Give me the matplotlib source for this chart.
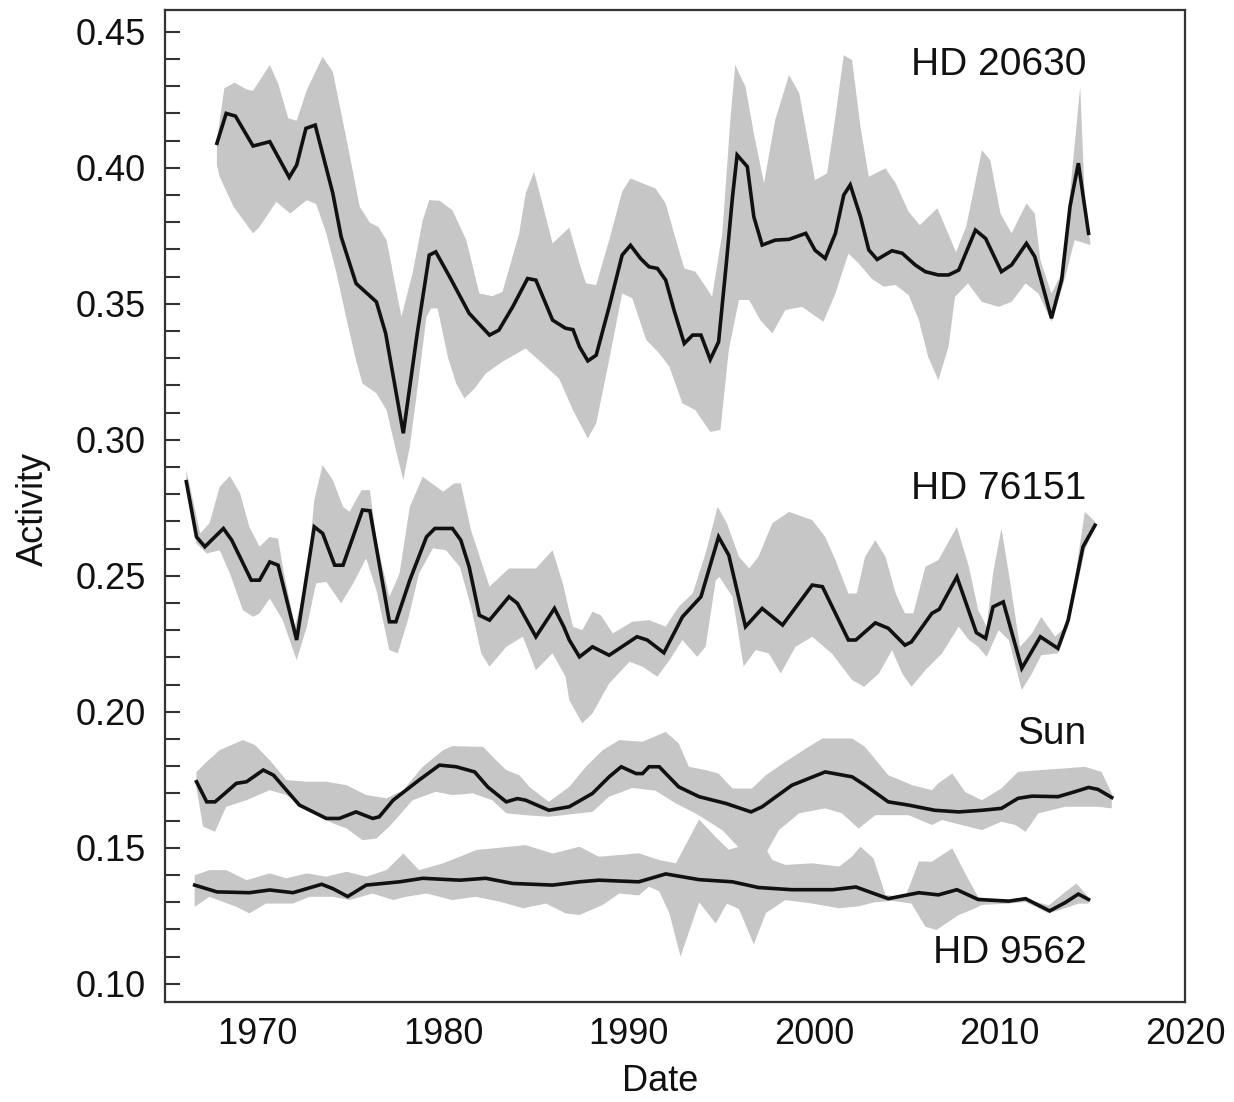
import matplotlib
matplotlib.use("Agg")
import matplotlib.pyplot as plt
from matplotlib.ticker import MultipleLocator, FormatStrFormatter
import numpy as np

plt.rcParams['font.family'] = ['Liberation Sans', 'DejaVu Sans']

# ---- HD 20630 ----
hd20630_x = [1967.8, 1968.3, 1968.8, 1969.75, 1970.65, 1971.7, 1972.1, 1972.6, 1973.1, 1974.05,
             1974.5, 1975.3, 1976.4, 1976.9, 1977.85, 1978.6, 1979.25, 1979.6, 1980.35, 1981.4,
             1982.5, 1983.0, 1983.75, 1984.55, 1985.0, 1985.9, 1986.6, 1987.0, 1987.35, 1987.8,
             1988.25, 1988.95, 1989.65, 1990.1, 1990.65, 1991.1, 1991.55, 1992.0, 1992.45, 1993.0,
             1993.45, 1993.9, 1994.4, 1994.85, 1995.25, 1995.6, 1995.85, 1996.4, 1996.75, 1997.2,
             1997.9, 1998.65, 1999.55, 2000.05, 2000.6, 2001.15, 2001.6, 2001.95, 2002.5, 2002.95,
             2003.4, 2004.2, 2004.75, 2005.45, 2006.0, 2006.7, 2007.25, 2007.8, 2008.7, 2009.25,
             2010.1, 2010.65, 2011.45, 2011.9, 2012.8, 2013.35, 2013.8, 2014.25, 2014.8]
hd20630_y = [0.409, 0.420, 0.419, 0.408, 0.4096, 0.3965, 0.401, 0.4145, 0.4157, 0.3906,
             0.3746, 0.3575, 0.3507, 0.3391, 0.3024, 0.3391, 0.3679, 0.3691, 0.3599, 0.3465,
             0.3385, 0.3403, 0.3489, 0.3593, 0.3587, 0.3440, 0.3410, 0.3405, 0.3342, 0.3290,
             0.3311, 0.3489, 0.3679, 0.3715, 0.3666, 0.3636, 0.3630, 0.3587, 0.3476, 0.3354,
             0.3385, 0.3385, 0.3295, 0.3360, 0.3636, 0.3893, 0.4047, 0.4004, 0.3820, 0.3716,
             0.3734, 0.3737, 0.3759, 0.3697, 0.3667, 0.3759, 0.3900, 0.3937, 0.3820, 0.3698,
             0.3663, 0.3695, 0.3686, 0.3643, 0.3618, 0.3606, 0.3606, 0.3624, 0.3771, 0.3740,
             0.3618, 0.3643, 0.3722, 0.3673, 0.3447, 0.3588, 0.3858, 0.4017, 0.3759]
hd20630_up_x = [1967.8, 1968.2, 1968.75, 1969.4, 1969.75, 1970.65, 1971.1, 1971.65, 1972.1, 1972.65,
                1973.5, 1974.05, 1974.8, 1975.5, 1976.05, 1976.5, 1976.95, 1977.75, 1978.35, 1978.9,
                1979.25, 1979.8, 1980.5, 1981.25, 1981.95, 1982.65, 1983.2, 1984.1, 1984.45, 1984.9,
                1985.35, 1985.9, 1986.8, 1987.35, 1987.7, 1988.25, 1988.95, 1989.65, 1990.1, 1990.75,
                1991.45, 1992.0, 1992.45, 1993.0, 1993.6, 1994.15, 1994.5, 1995.05, 1995.5, 1995.75,
                1996.3, 1996.75, 1997.3, 1997.9, 1998.65, 1999.2, 2000.05, 2000.7, 2001.15, 2001.6,
                2002.05, 2002.5, 2002.95, 2003.85, 2004.4, 2005.1, 2005.7, 2006.65, 2007.15, 2007.65,
                2008.2, 2009.05, 2009.5, 2010.05, 2010.65, 2011.45, 2011.9, 2012.2, 2012.8, 2013.35,
                2013.8, 2014.35, 2014.6, 2014.9]
hd20630_up_y = [0.410, 0.4292, 0.4313, 0.4288, 0.4283, 0.4378, 0.4310, 0.4182, 0.4173, 0.4286,
                0.4408, 0.4353, 0.4102, 0.3857, 0.3798, 0.3783, 0.3734, 0.3452, 0.3612, 0.3808,
                0.3881, 0.3879, 0.3844, 0.3734, 0.3538, 0.3528, 0.3544, 0.3759, 0.3906, 0.3985,
                0.3869, 0.3722, 0.3780, 0.3649, 0.3575, 0.3569, 0.3734, 0.3912, 0.3961, 0.3943,
                0.3924, 0.3869, 0.3759, 0.3630, 0.3618, 0.3563, 0.3526, 0.3759, 0.4188, 0.4378,
                0.4298, 0.4127, 0.3943, 0.4175, 0.4341, 0.4274, 0.3955, 0.3979, 0.4188, 0.4414,
                0.4396, 0.4151, 0.3967, 0.3998, 0.3943, 0.3838, 0.3789, 0.3851, 0.3771, 0.3690,
                0.3783, 0.4065, 0.4028, 0.3832, 0.3759, 0.3869, 0.3832, 0.3661, 0.3538, 0.3612,
                0.3906, 0.4298, 0.3881, 0.3722]
hd20630_lo_x = [1967.8, 1967.95, 1968.7, 1969.75, 1970.1, 1971.0, 1971.75, 1972.65, 1973.15, 1973.7,
                1974.25, 1974.8, 1975.3, 1975.65, 1976.4, 1976.95, 1977.45, 1977.85, 1978.2, 1978.65,
                1979.1, 1979.35, 1979.7, 1980.25, 1980.7, 1981.15, 1981.7, 1982.3, 1983.2, 1984.45,
                1985.35, 1986.25, 1987.0, 1987.8, 1988.25, 1988.95, 1989.65, 1990.2, 1990.95, 1991.65,
                1992.2, 1992.9, 1993.6, 1994.4, 1994.95, 1995.4, 1995.95, 1996.5, 1997.1, 1997.75,
                1998.45, 1999.35, 2000.5, 2001.15, 2001.85, 2002.4, 2003.1, 2003.75, 2004.4, 2005.1,
                2005.65, 2006.15, 2006.7, 2007.25, 2007.6, 2008.3, 2009.05, 2009.95, 2010.65, 2011.4,
                2012.1, 2012.8, 2013.55, 2014.05, 2014.9]
hd20630_lo_y = [0.401, 0.3967, 0.3857, 0.3759, 0.3783, 0.3875, 0.3832, 0.3881, 0.3867, 0.3759,
                0.3612, 0.3440, 0.3293, 0.3207, 0.3171, 0.3109, 0.2962, 0.2852, 0.2974, 0.3207,
                0.3452, 0.3483, 0.3483, 0.3305, 0.3207, 0.3152, 0.3189, 0.3244, 0.3287, 0.3336,
                0.3281, 0.3225, 0.3109, 0.3005, 0.3060, 0.3293, 0.3538, 0.3520, 0.3367, 0.3318,
                0.3268, 0.3134, 0.3109, 0.3029, 0.3036, 0.3330, 0.3514, 0.3514, 0.3440, 0.3391,
                0.3477, 0.3489, 0.3434, 0.3538, 0.3685, 0.3649, 0.3593, 0.3563, 0.3569, 0.3532,
                0.3440, 0.3305, 0.3219, 0.3342, 0.3526, 0.3575, 0.3507, 0.3489, 0.3507, 0.3575,
                0.3538, 0.3434, 0.3599, 0.3734, 0.3716]

# ---- HD 76151 ----
hd76151_x = [1966.15, 1966.7, 1967.15, 1968.15, 1968.6, 1969.65, 1970.1, 1970.65, 1971.1, 1972.1,
             1973.05, 1973.5, 1974.15, 1974.6, 1975.65, 1976.05, 1977.1, 1977.45, 1978.2, 1979.1,
             1979.55, 1980.5, 1980.95, 1981.4, 1981.95, 1982.5, 1983.55, 1984.0, 1985.0, 1986.0,
             1986.5, 1986.8, 1987.35, 1988.05, 1988.95, 1990.45, 1991.0, 1991.9, 1992.9, 1993.9,
             1994.85, 1995.4, 1996.3, 1997.2, 1998.3, 1999.9, 2000.45, 2001.85, 2002.25, 2003.3,
             2004.0, 2004.9, 2005.25, 2006.35, 2006.75, 2007.7, 2008.75, 2009.25, 2009.65, 2010.2,
             2011.2, 2012.2, 2013.15, 2013.7, 2014.5, 2015.15]
hd76151_y = [0.2846, 0.2643, 0.2607, 0.2674, 0.2631, 0.2484, 0.2484, 0.2551, 0.2539, 0.2264,
             0.2680, 0.2656, 0.2539, 0.2539, 0.2742, 0.2739, 0.2331, 0.2331, 0.2484, 0.2643,
             0.2674, 0.2674, 0.2631, 0.2533, 0.2355, 0.2337, 0.2423, 0.2399, 0.2276, 0.2380,
             0.2313, 0.2264, 0.2202, 0.2239, 0.2208, 0.2276, 0.2264, 0.2217, 0.2349, 0.2423,
             0.2643, 0.2576, 0.2313, 0.2380, 0.2319, 0.2466, 0.2460, 0.2264, 0.2264, 0.2327,
             0.2307, 0.2245, 0.2257, 0.2362, 0.2377, 0.2496, 0.2291, 0.2270, 0.2386, 0.2404,
             0.2160, 0.2276, 0.2233, 0.2337, 0.2607, 0.2686]
hd76151_up_x = [1966.15, 1966.9, 1967.4, 1967.95, 1968.5, 1969.05, 1969.55, 1970.1, 1970.65, 1971.1,
                1971.35, 1972.0, 1972.65, 1973.05, 1973.5, 1974.05, 1974.6, 1974.95, 1975.6, 1976.05,
                1976.4, 1977.1, 1977.65, 1978.2, 1978.9, 1980.0, 1980.6, 1980.95, 1981.5, 1982.5,
                1983.55, 1985.0, 1985.9, 1986.45, 1987.0, 1987.5, 1988.05, 1988.5, 1989.15, 1990.2,
                1991.1, 1992.0, 1992.7, 1993.45, 1994.15, 1994.8, 1995.3, 1995.95, 1996.5, 1997.0,
                1997.75, 1998.65, 1999.9, 2000.6, 2001.15, 2001.85, 2002.3, 2002.75, 2003.3, 2003.85,
                2004.4, 2004.9, 2005.35, 2006.0, 2006.7, 2007.7, 2008.35, 2008.85, 2009.3, 2009.65,
                2010.1, 2010.5, 2011.1, 2011.75, 2012.25, 2013.0, 2013.55, 2014.05, 2014.6, 2015.15]
hd76151_up_y = [0.2889, 0.2656, 0.2693, 0.2827, 0.2867, 0.2803, 0.2680, 0.2607, 0.2643, 0.2637,
                0.2533, 0.2313, 0.2484, 0.2778, 0.2907, 0.2852, 0.2754, 0.2735, 0.2815, 0.2815,
                0.2631, 0.2423, 0.2509, 0.2754, 0.2864, 0.2809, 0.2840, 0.2840, 0.2668, 0.2460,
                0.2527, 0.2527, 0.2594, 0.2472, 0.2313, 0.2300, 0.2368, 0.2355, 0.2288, 0.2331,
                0.2337, 0.2313, 0.2386, 0.2435, 0.2582, 0.2754, 0.2693, 0.2570, 0.2527, 0.2570,
                0.2693, 0.2735, 0.2705, 0.2643, 0.2558, 0.2435, 0.2435, 0.2570, 0.2631, 0.2570,
                0.2435, 0.2362, 0.2362, 0.2533, 0.2558, 0.2680, 0.2533, 0.2374, 0.2313, 0.2509,
                0.2674, 0.2509, 0.2239, 0.2288, 0.2349, 0.2276, 0.2313, 0.2484, 0.2735, 0.2699]
hd76151_lo_x = [1966.15, 1966.7, 1967.25, 1967.95, 1968.5, 1969.2, 1969.75, 1970.1, 1970.65, 1971.35,
                1972.1, 1972.65, 1973.15, 1973.7, 1974.5, 1975.15, 1975.85, 1976.4, 1977.1, 1977.55,
                1978.1, 1978.7, 1979.45, 1980.15, 1980.9, 1981.5, 1982.05, 1982.5, 1983.4, 1984.3,
                1985.0, 1985.9, 1986.6, 1986.8, 1987.5, 1988.05, 1988.95, 1990.05, 1990.75, 1991.55,
                1992.2, 1992.9, 1993.7, 1994.15, 1994.7, 1994.9, 1995.6, 1996.2, 1996.85, 1997.55,
                1998.2, 1999.0, 1999.9, 2000.95, 2002.05, 2002.7, 2003.5, 2004.2, 2004.75, 2005.25,
                2006.0, 2006.9, 2007.8, 2008.35, 2008.85, 2009.3, 2009.95, 2010.5, 2011.2, 2011.75,
                2012.25, 2013.15, 2013.7, 2014.6, 2015.15]
hd76151_lo_y = [0.2830, 0.2619, 0.2582, 0.2594, 0.2509, 0.2374, 0.2349, 0.2362, 0.2417, 0.2337,
                0.2190, 0.2313, 0.2472, 0.2478, 0.2399, 0.2472, 0.2564, 0.2447, 0.2227, 0.2215,
                0.2337, 0.2509, 0.2601, 0.2594, 0.2533, 0.2386, 0.2215, 0.2166, 0.2239, 0.2276,
                0.2153, 0.2215, 0.2129, 0.2043, 0.1958, 0.1994, 0.2104, 0.2184, 0.2166, 0.2129,
                0.2190, 0.2264, 0.2202, 0.2239, 0.2484, 0.2496, 0.2423, 0.2166, 0.2227, 0.2215,
                0.2141, 0.2239, 0.2276, 0.2215, 0.2117, 0.2092, 0.2141, 0.2227, 0.2141, 0.2092,
                0.2153, 0.2215, 0.2313, 0.2264, 0.2239, 0.2202, 0.2300, 0.2264, 0.2080, 0.2141,
                0.2208, 0.2215, 0.2313, 0.2594, 0.2680]

# ---- Sun ----
sun_x = [1966.7, 1967.25, 1967.7, 1968.85, 1969.4, 1970.3, 1970.85, 1972.25, 1973.7, 1974.4,
         1975.3, 1976.2, 1976.55, 1977.3, 1978.7, 1979.8, 1980.7, 1981.7, 1982.4, 1983.4,
         1984.0, 1984.45, 1985.7, 1986.8, 1988.05, 1988.95, 1989.6, 1990.4, 1990.75, 1991.1,
         1991.65, 1992.7, 1993.8, 1995.25, 1996.6, 1997.2, 1998.8, 2000.6, 2002.05, 2002.75,
         2004.0, 2005.1, 2006.5, 2007.8, 2009.05, 2010.1, 2011.0, 2011.75, 2013.15, 2014.05,
         2014.8, 2015.3, 2016.05]
sun_y = [0.1743, 0.1669, 0.1669, 0.1737, 0.1743, 0.1786, 0.1767, 0.1657, 0.1608, 0.1608,
         0.1632, 0.1608, 0.1614, 0.1675, 0.1749, 0.1804, 0.1798, 0.1779, 0.1724, 0.1669,
         0.1681, 0.1675, 0.1638, 0.1651, 0.1700, 0.1761, 0.1798, 0.1773, 0.1773, 0.1798,
         0.1798, 0.1724, 0.1688, 0.1663, 0.1632, 0.1651, 0.1730, 0.1779, 0.1761, 0.1730,
         0.1669, 0.1657, 0.1638, 0.1632, 0.1638, 0.1645, 0.1682, 0.1690, 0.1688, 0.1706,
         0.1722, 0.1715, 0.1685]
sun_up_x = [1966.7, 1967.25, 1967.95, 1969.2, 1969.85, 1970.65, 1971.55, 1972.65, 1973.7, 1974.8,
            1975.85, 1976.95, 1977.85, 1978.9, 1980.0, 1980.5, 1982.15, 1982.85, 1983.4, 1984.1,
            1984.65, 1985.7, 1986.8, 1987.7, 1988.6, 1989.5, 1990.75, 1992.0, 1992.7, 1993.25,
            1994.15, 1994.85, 1995.6, 1996.65, 1997.4, 1998.45, 1999.7, 2000.45, 2002.05, 2002.75,
            2004.0, 2005.3, 2006.35, 2006.7, 2007.45, 2008.15, 2009.05, 2010.1, 2011.0, 2012.25,
            2013.55, 2014.6, 2015.5, 2016.05]
sun_up_y = [0.1779, 0.1816, 0.1859, 0.1896, 0.1878, 0.1822, 0.1749, 0.1743, 0.1743, 0.1730,
            0.1694, 0.1682, 0.1712, 0.1798, 0.1859, 0.1874, 0.1871, 0.1822, 0.1786, 0.1767,
            0.1724, 0.1669, 0.1724, 0.1798, 0.1859, 0.1896, 0.1890, 0.1926, 0.1884, 0.1798,
            0.1786, 0.1773, 0.1718, 0.1718, 0.1767, 0.1816, 0.1871, 0.1902, 0.1902, 0.1871,
            0.1767, 0.1730, 0.1712, 0.1737, 0.1773, 0.1705, 0.1675, 0.1718, 0.1779, 0.1786,
            0.1792, 0.1798, 0.1779, 0.1700]
sun_lo_x = [1966.7, 1967.05, 1967.7, 1968.3, 1969.4, 1970.65, 1971.55, 1972.8, 1974.05, 1974.8,
            1975.65, 1976.4, 1977.1, 1978.35, 1979.6, 1980.5, 1981.6, 1982.65, 1983.4, 1984.45,
            1985.7, 1987.35, 1988.05, 1988.95, 1990.2, 1991.45, 1992.55, 1993.6, 1995.05, 1995.95,
            1996.8, 1997.45, 1998.1, 1999.2, 2000.6, 2001.5, 2002.4, 2003.3, 2005.1, 2006.35,
            2006.9, 2009.05, 2010.1, 2010.85, 2011.4, 2012.1, 2013.55, 2015.3, 2016.05]
sun_lo_y = [0.1720, 0.1578, 0.1559, 0.1651, 0.1675, 0.1712, 0.1694, 0.1632, 0.1590, 0.1571,
            0.1528, 0.1534, 0.1578, 0.1675, 0.1706, 0.1694, 0.1700, 0.1675, 0.1627, 0.1620,
            0.1614, 0.1627, 0.1632, 0.1688, 0.1720, 0.1710, 0.1663, 0.1627, 0.1565, 0.1500,
            0.1470, 0.1485, 0.1565, 0.1627, 0.1645, 0.1627, 0.1571, 0.1620, 0.1620, 0.1584,
            0.1602, 0.1565, 0.1596, 0.1584, 0.1559, 0.1627, 0.1651, 0.1651, 0.1645]

# ---- HD 9562 ----
hd9562_x = [1966.6, 1967.8, 1969.55, 1970.65, 1971.9, 1973.45, 1974.05, 1974.85, 1975.85, 1977.65,
            1978.9, 1980.9, 1982.3, 1983.75, 1985.9, 1987.35, 1988.4, 1990.55, 1992.0, 1993.8,
            1995.6, 1997.0, 1998.8, 2001.0, 2002.25, 2004.0, 2005.65, 2006.7, 2007.7, 2008.85,
            2010.5, 2011.4, 2012.7, 2013.55, 2014.25, 2014.8]
hd9562_y = [0.1363, 0.1338, 0.1335, 0.1345, 0.1335, 0.1366, 0.1350, 0.1321, 0.1363, 0.1375,
            0.1388, 0.1381, 0.1388, 0.1369, 0.1363, 0.1375, 0.1381, 0.1375, 0.1404, 0.1383,
            0.1375, 0.1354, 0.1346, 0.1346, 0.1356, 0.1313, 0.1335, 0.1327, 0.1346, 0.1310,
            0.1304, 0.1313, 0.1268, 0.1299, 0.1330, 0.1310]
hd9562_up_x = [1966.6, 1967.4, 1968.3, 1969.4, 1970.65, 1971.55, 1972.65, 1973.7, 1974.8, 1975.85,
               1976.95, 1977.85, 1978.7, 1980.0, 1981.8, 1984.45, 1985.9, 1987.35, 1988.4, 1990.55,
               1991.65, 1992.55, 1993.8, 1994.7, 1995.4, 1996.5, 1997.45, 1997.75, 1998.45, 1999.9,
               2001.35, 2002.05, 2002.5, 2003.2, 2003.85, 2004.9, 2005.65, 2006.35, 2007.45, 2008.15,
               2008.85, 2010.5, 2011.4, 2012.65, 2013.55, 2014.15, 2014.8]
hd9562_up_y = [0.1399, 0.1418, 0.1418, 0.1381, 0.1406, 0.1388, 0.1406, 0.1394, 0.1412, 0.1394,
               0.1418, 0.1479, 0.1418, 0.1443, 0.1492, 0.1510, 0.1479, 0.1504, 0.1467, 0.1480,
               0.1455, 0.1443, 0.1604, 0.1539, 0.1493, 0.1515, 0.1490, 0.1455, 0.1437, 0.1443,
               0.1431, 0.1468, 0.1504, 0.1461, 0.1327, 0.1316, 0.1450, 0.1449, 0.1498, 0.1406,
               0.1318, 0.1307, 0.1313, 0.1288, 0.1338, 0.1369, 0.1318]
hd9562_lo_x = [1966.6, 1967.4, 1968.85, 1969.55, 1970.45, 1971.9, 1972.8, 1974.05, 1974.95, 1976.2,
               1977.3, 1978.0, 1979.1, 1980.5, 1981.75, 1983.05, 1984.3, 1985.55, 1986.6, 1987.35,
               1988.6, 1989.5, 1990.55, 1991.1, 1991.65, 1992.2, 1992.8, 1993.8, 1994.7, 1995.3,
               1995.95, 1996.75, 1997.4, 1998.45, 1999.9, 2001.35, 2002.4, 2003.3, 2004.2, 2005.25,
               2006.0, 2006.6, 2007.8, 2008.6, 2009.05, 2010.5, 2011.4, 2012.65, 2013.55, 2014.25,
               2014.8]
hd9562_lo_y = [0.1283, 0.1320, 0.1283, 0.1259, 0.1295, 0.1295, 0.1320, 0.1320, 0.1308, 0.1332,
               0.1308, 0.1320, 0.1332, 0.1308, 0.1320, 0.1302, 0.1278, 0.1295, 0.1259, 0.1253,
               0.1290, 0.1332, 0.1325, 0.1357, 0.1340, 0.1259, 0.1100, 0.1300, 0.1222, 0.1295,
               0.1275, 0.1145, 0.1260, 0.1308, 0.1295, 0.1278, 0.1285, 0.1300, 0.1305, 0.1295,
               0.1210, 0.1198, 0.1253, 0.1275, 0.1290, 0.1295, 0.1301, 0.1259, 0.1278, 0.1295,
               0.1295]

names = ["HD 20630", "HD 76151", "Sun", "HD 9562"]
label_y = [0.4378, 0.2818, 0.1918, 0.1113]

series = [
    (hd20630_x, hd20630_y, hd20630_up_x, hd20630_up_y, hd20630_lo_x, hd20630_lo_y),
    (hd76151_x, hd76151_y, hd76151_up_x, hd76151_up_y, hd76151_lo_x, hd76151_lo_y),
    (sun_x, sun_y, sun_up_x, sun_up_y, sun_lo_x, sun_lo_y),
    (hd9562_x, hd9562_y, hd9562_up_x, hd9562_up_y, hd9562_lo_x, hd9562_lo_y),
]

fig = plt.figure(figsize=(12.34, 11.02), dpi=100)
ax = fig.add_axes([0.1337, 0.0907, 0.8266, 0.9002])

band_color = '#c6c6c6'
for x, y, ux, uy, lx, ly in series:
    px = np.r_[ux, lx[::-1]]
    py = np.r_[uy, ly[::-1]]
    ax.fill(px, py, color=band_color, lw=0, zorder=1)
for x, y, ux, uy, lx, ly in series:
    ax.plot(x, y, color='#111111', lw=2.6, solid_joinstyle='miter', zorder=3)

for name, ly in zip(names, label_y):
    ax.text(2014.68, ly, name, ha='right', va='center', fontsize=28, color='#111111', zorder=4)

ax.set_xlim(1965, 2020)
ax.set_ylim(0.0933, 0.458)
ax.xaxis.set_major_locator(MultipleLocator(10))
ax.yaxis.set_major_locator(MultipleLocator(0.05))
ax.yaxis.set_minor_locator(MultipleLocator(0.01))
ax.yaxis.set_major_formatter(FormatStrFormatter('%.2f'))
ax.tick_params(axis='y', which='both', direction='in', length=11, width=1.5,
               labelsize=26, pad=14, colors='#333333', labelcolor='#111111')
ax.tick_params(axis='x', which='both', length=0, labelsize=26, pad=11, labelcolor='#111111')

for sp in ax.spines.values():
    sp.set_linewidth(1.6)
    sp.set_color('#333333')

ax.set_xlabel("Date", fontsize=26, color='#111111')
ax.set_ylabel("Activity", fontsize=26, color='#111111')
ax.xaxis.set_label_coords(0.485, -0.062)
ax.yaxis.set_label_coords(-0.112, 0.497)

fig.savefig("out.png", dpi=100)
